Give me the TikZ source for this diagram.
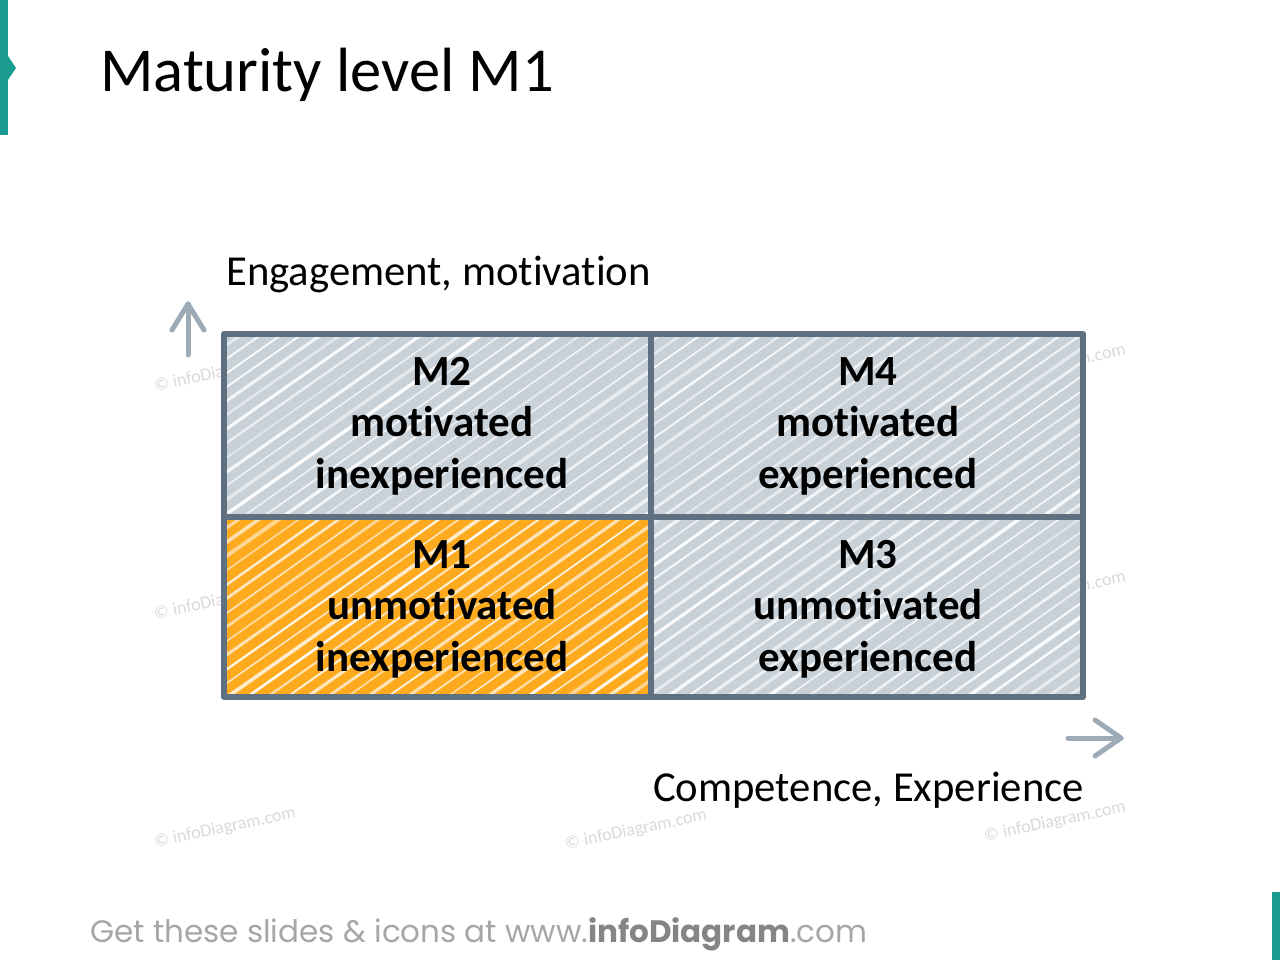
\documentclass[tikz,border=0pt]{standalone}
\usepackage{fontspec}
\setmainfont{Carlito}[Ligatures=NoCommon]
\newfontfamily\footfont{Poppins}
\usetikzlibrary{arrows.meta}
\definecolor{teal}{HTML}{1A9C93}
\definecolor{cellgray}{HTML}{C8D0D8}
\definecolor{cellorange}{HTML}{FDAA1E}
\definecolor{edge}{HTML}{5F7080}
\definecolor{arrowgray}{HTML}{9DAAB7}
\definecolor{wmark}{HTML}{D9D9D9}
\definecolor{footgray}{HTML}{A6A6A6}
\tikzset{
  celltext/.style={font=\fontsize{43}{51.5}\selectfont\bfseries, align=center, text=black},
  axislabel/.style={font=\fontsize{42.7}{50}\selectfont, text=black},
  wmtext/.style={font=\fontsize{18}{20}\selectfont, text=wmark, rotate=12},
  axisarrow/.style={draw=arrowgray, line width=5pt, line cap=round, line join=round},
  hatch/.style={white, line cap=round},
  gridline/.style={draw=edge, line width=6pt, line join=round, line cap=round}
}
\begin{document}
\begin{tikzpicture}[x=1pt,y=-1pt]
\useasboundingbox (0,0) rectangle (1280,960);
\pgfmathsetseed{7}
% teal markers
\fill[teal] (0,0) rectangle (8,135);
\fill[teal] (8,56) -- (16,68) -- (8,80) -- cycle;
\fill[teal] (1272,892) rectangle (1280,960);
% title
\node[anchor=base west, font=\fontsize{62.5}{70}\selectfont, inner sep=0pt] (title) at (100,92) {Maturity level M1};
% watermarks (partly hidden behind the cells)
\foreach \wx/\wy [count=\k] in {225/372,1055/365,225/600,1055/592,225/828,636/830,1055/822}{
  \node[wmtext] (wm\k) at (\wx,\wy) {© infoDiagram.com};
}
% cells
\foreach \x/\y/\w/\h/\c [count=\k] in {224/334/427/183/cellgray,651/334/432/183/cellgray,224/517/427/180/cellorange,651/517/432/180/cellgray}{
  \begin{scope}
    \clip (\x,\y) rectangle ++(\w,\h);
    \fill[\c] (\x,\y) rectangle ++(\w,\h);
    \foreach \i in {-600,-580,...,1100}{
      \pgfmathsetmacro{\lw}{1.4+2.4*rnd}
      \pgfmathsetmacro{\op}{0.5+0.45*rnd}
      \pgfmathsetmacro{\dx}{6*rnd-3}
      \draw[hatch, line width=\lw pt, opacity=\op] (\i,702) .. controls (\i+180+\dx,575) and (\i+350-\dx,455) .. ++(528,-372);
    }
  \end{scope}
}
% grid
\coordinate (tl) at (224,334);
\coordinate (tr) at (1083,334);
\coordinate (bl) at (224,697);
\coordinate (br) at (1083,697);
\coordinate (mt) at (651,334);
\coordinate (mb) at (651,697);
\coordinate (ml) at (224,517);
\coordinate (mr) at (1083,517);
\draw[gridline] (tl) -- (tr) -- (br) -- (bl) -- cycle;
\draw[gridline] (mt) -- (mb);
\draw[gridline] (ml) -- (mr);
% cell texts
\node[celltext] (m2) at (442,426) {M2\\motivated\\inexperienced};
\node[celltext] (m4) at (868,426) {M4\\motivated\\experienced};
\node[celltext] (m1) at (442,609) {M1\\unmotivated\\inexperienced};
\node[celltext] (m3) at (868,609) {M3\\unmotivated\\experienced};
% axis labels
\node[axislabel, anchor=base west, inner sep=0pt] (ylab) at (226,285) {Engagement, motivation};
\node[axislabel, anchor=base east, inner sep=0pt] (xlab) at (1084,801) {Competence, Experience};
% axis arrows
\coordinate (ua0) at (188,355);
\coordinate (ua1) at (188,304);
\draw[axisarrow] (ua0) -- (ua1);
\draw[axisarrow] (172,330) -- (ua1) -- (204,330);
\coordinate (ra0) at (1068,738);
\coordinate (ra1) at (1121,738);
\draw[axisarrow] (ra0) -- (ra1);
\draw[axisarrow] (1095,720) -- (ra1) -- (1095,756);
% footer
\node[anchor=base west, inner sep=0pt, font=\footfont\fontsize{31}{36}\selectfont, text=footgray] (foot) at (90,942) {Get these slides \& icons at www.{\bfseries\color{footgray!80!black}infoDiagram}.com};
\end{tikzpicture}
\end{document}
